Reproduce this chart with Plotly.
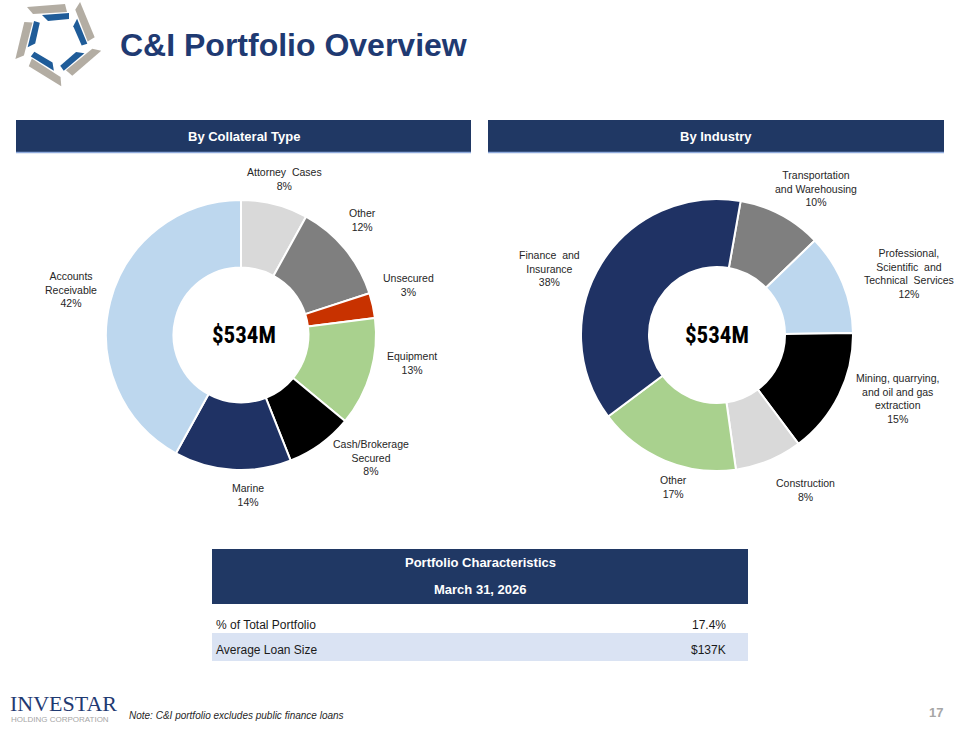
import math
import plotly.graph_objects as go

W, H = 960, 730

# ---------------- data ----------------
title_text = "C&I Portfolio Overview"
panel_titles = ["By Collateral Type", "By Industry"]
total_label = "$534M"

coll_labels = ["Attorney Cases", "Other", "Unsecured", "Equipment",
               "Cash/Brokerage Secured", "Marine", "Accounts Receivable"]
coll_display = ["Attorney  Cases", "Other", "Unsecured", "Equipment",
                "Cash/Brokerage<br>Secured", "Marine", "Accounts<br>Receivable"]
coll_values = [8, 12, 3, 13, 8, 14, 42]
coll_colors = ["#D9D9D9", "#7F7F7F", "#C83200", "#A9D18E", "#000000", "#1F3264", "#BDD7EE"]

ind_labels = ["Transportation and Warehousing",
              "Professional, Scientific and Technical Services",
              "Mining, quarrying, and oil and gas extraction",
              "Construction", "Other", "Finance and Insurance"]
ind_display = ["Transportation<br>and Warehousing",
               "Professional,<br>Scientific  and<br>Technical  Services",
               "Mining, quarrying,<br>and oil and gas<br>extraction",
               "Construction", "Other", "Finance  and<br>Insurance"]
ind_values = [10, 12, 15, 8, 17, 38]
ind_colors = ["#7F7F7F", "#BDD7EE", "#000000", "#D9D9D9", "#A9D18E", "#1F3264"]

table_header = ["Portfolio Characteristics", "March 31, 2026"]
table_rows = ["% of Total Portfolio", "Average Loan Size"]
table_values = ["17.4%", "$137K"]

footnote = "Note: C&I portfolio excludes public finance loans"
page_number = "17"

# ---------------- layout helpers (pixel -> paper) ----------------
def px(x):
    return x / W

def py(y):
    return 1 - y / H

NAVY = "#203864"
FONT = "Liberation Sans, Arial, sans-serif"
NARROW = "Liberation Sans Narrow, Arial Narrow, Roboto Condensed, Liberation Sans, sans-serif"

def pie_domain(cx, cy, r):
    return dict(x=[px(cx - r), px(cx + r)], y=[py(cy + r), py(cy - r)])

fig = go.Figure()

fig.add_trace(go.Pie(
    labels=coll_labels, values=coll_values, hole=0.5, sort=False,
    direction="clockwise", rotation=0,
    marker=dict(colors=coll_colors, line=dict(color="white", width=2)),
    textinfo="none", showlegend=False,
    domain=pie_domain(241, 335, 135),
))
fig.add_trace(go.Pie(
    labels=ind_labels, values=ind_values, hole=0.5, sort=False,
    direction="clockwise", rotation=10,
    marker=dict(colors=ind_colors, line=dict(color="white", width=2)),
    textinfo="none", showlegend=False,
    domain=pie_domain(717, 335, 136),
))

shapes = []
annotations = []

def rect(x0, y0, x1, y1, color):
    shapes.append(dict(type="rect", xref="paper", yref="paper",
                       x0=px(x0), x1=px(x1), y0=py(y1), y1=py(y0),
                       fillcolor=color, line=dict(width=0), layer="below"))

def hline(x0, x1, y, color, width=1):
    shapes.append(dict(type="line", xref="paper", yref="paper",
                       x0=px(x0), x1=px(x1), y0=py(y), y1=py(y),
                       line=dict(color=color, width=width)))

def text(x, y, s, size=10, color="#262626", bold=False, anchor="center",
         family=FONT, italic=False):
    if bold:
        s = f"<b>{s}</b>"
    if italic:
        s = f"<i>{s}</i>"
    annotations.append(dict(x=px(x), y=py(y), xref="paper", yref="paper",
                            text=s, showarrow=False, xanchor=anchor,
                            yanchor="middle", align=anchor,
                            font=dict(size=size, color=color, family=family)))

# title
text(118, 45, title_text, size=32, color="#1F3A72", bold=True, anchor="left")

# logo swirl (decorative)
def logo():
    cx, cy = 57, 41
    for k in range(5):
        th = math.radians(-90 + 72 * k)
        def P(u, v):
            # u tangential, v radial
            x = cx + v * math.cos(th) - u * math.sin(th)
            y = cy + v * math.sin(th) + u * math.cos(th)
            return x, y
        for (pts, col) in [
            ([P(-30, 34), P(8, 37), P(10, 29), P(-24, 27)], "#B3ADA3"),
            ([P(-15, 26), P(12, 28), P(12, 22), P(-9, 20)], "#1F5C99"),
        ]:
            path = "M " + " L ".join(f"{px(a)},{py(b)}" for a, b in pts) + " Z"
            shapes.append(dict(type="path", xref="paper", yref="paper",
                               path=path, fillcolor=col, line=dict(width=0)))
logo()

# panel headers
for (x0, x1), t in zip([(16, 471), (488, 944)], panel_titles):
    rect(x0, 120, x1, 152, NAVY)
    hline(x0, x1, 152.5, "#8FAADC", 1.5)
    text((x0 + x1) / 2, 136, t, size=13, color="white", bold=True)

# donut centre labels
text(244, 335, total_label, size=23, color="black", bold=True, family=NARROW)
text(717, 335, total_label, size=23, color="black", bold=True, family=NARROW)

# slice labels
coll_pos = [(284, 179), (362, 220), (408, 285), (412, 363), (371, 457), (248, 495), (71, 289)]
for (x, y), d, v in zip(coll_pos, coll_display, coll_values):
    text(x, y, f"{d}<br>{v}%", size=10.5, anchor="center")

ind_pos = [(816, 188), (909, 273), (897, 398), (805, 490), (673, 487), (549, 268)]
for (x, y), d, v in zip(ind_pos, ind_display, ind_values):
    text(x, y, f"{d}<br>{v}%", size=10.5, anchor="center")

# table
rect(212, 549, 748, 604, NAVY)
text(480, 562, table_header[0], size=13, color="white", bold=True)
text(480, 589, table_header[1], size=13, color="white", bold=True)
rect(212, 633, 748, 661, "#DAE3F3")
for (yy, lab, val) in zip([625, 650], table_rows, table_values):
    text(214, yy, lab, size=12, color="#1A1A1A", anchor="left")
    text(728, yy, val, size=12, color="#1A1A1A", anchor="right")

# footer
text(8, 703, "INVESTAR", size=22, color="#1F3A72", anchor="left",
     family="Liberation Serif, Times New Roman, serif")
text(9, 719, "HOLDING CORPORATION", size=8, color="#A6A6A6", anchor="left")
text(127, 715, footnote, size=10, color="#262626", anchor="left", italic=True)
text(936, 712, page_number, size=13, color="#A6A6A6", bold=True)

fig.update_layout(
    width=W, height=H, margin=dict(l=0, r=0, t=0, b=0),
    paper_bgcolor="white", plot_bgcolor="white",
    shapes=shapes, annotations=annotations, showlegend=False,
    font=dict(family=FONT),
)

fig.write_html("out.html")
